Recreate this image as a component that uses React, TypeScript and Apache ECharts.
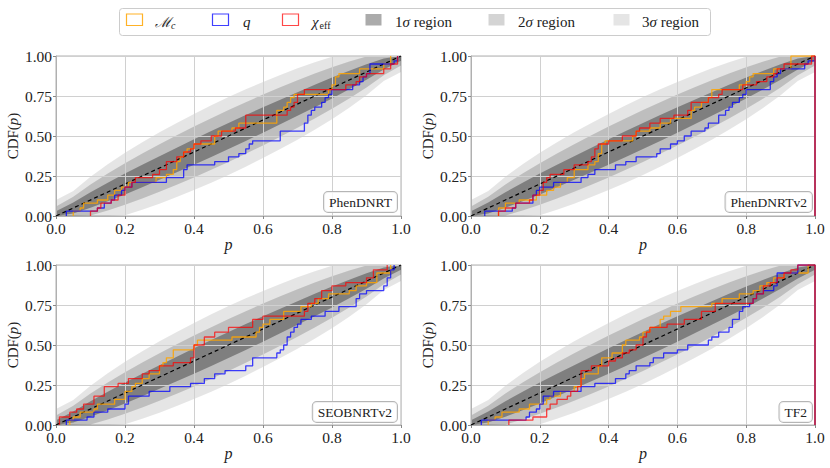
import React, { useEffect, useRef } from "react";
import * as echarts from "echarts";

// ---------- data ----------
const PANEL_NAMES = ["PhenDNRT", "PhenDNRTv2", "SEOBNRTv2", "TF2"];

// confidence bands (binomial)
const P_BAND = [0, 0.05, 0.1, 0.15, 0.2, 0.25, 0.3, 0.35, 0.4, 0.45, 0.5, 0.55, 0.6, 0.65, 0.7, 0.75, 0.8, 0.85, 0.9, 0.95, 1];
const LO_1SIG = [0, 0.015, 0.051, 0.092, 0.135, 0.18, 0.226, 0.273, 0.321, 0.369, 0.419, 0.469, 0.521, 0.573, 0.626, 0.68, 0.735, 0.792, 0.851, 0.915, 0.97];
const HI_1SIG = [0.03, 0.085, 0.149, 0.208, 0.265, 0.32, 0.374, 0.427, 0.479, 0.531, 0.581, 0.631, 0.679, 0.727, 0.774, 0.82, 0.865, 0.908, 0.949, 0.985, 1];
const LO_2SIG = [0, 0, 0.003, 0.034, 0.07, 0.11, 0.151, 0.195, 0.241, 0.289, 0.338, 0.389, 0.441, 0.495, 0.551, 0.61, 0.67, 0.734, 0.803, 0.879, 0.94];
const HI_2SIG = [0.06, 0.121, 0.197, 0.266, 0.33, 0.39, 0.449, 0.505, 0.559, 0.611, 0.662, 0.711, 0.759, 0.805, 0.849, 0.89, 0.93, 0.966, 0.997, 1, 1];
const LO_3SIG = [0, 0, 0, 0, 0.005, 0.039, 0.077, 0.118, 0.162, 0.208, 0.257, 0.308, 0.362, 0.418, 0.477, 0.539, 0.605, 0.676, 0.754, 0.844, 0.9];
const HI_3SIG = [0.1, 0.156, 0.246, 0.324, 0.395, 0.461, 0.523, 0.582, 0.638, 0.692, 0.743, 0.792, 0.838, 0.882, 0.923, 0.961, 0.995, 1, 1, 1, 1];

const DIAG_X = [0, 1];
const DIAG_Y = [0, 1];

// PhenDNRT
const MC_X_1 = [0.05, 0.07, 0.08, 0.12, 0.15, 0.17, 0.19, 0.21, 0.29, 0.32, 0.34, 0.35, 0.36, 0.37, 0.38, 0.4, 0.46, 0.47, 0.51, 0.53, 0.64, 0.66, 0.67, 0.68, 0.69, 0.79, 0.8, 0.81, 0.82, 0.88, 0.95, 0.97];
const MC_Y_1 = [0.03, 0.05, 0.08, 0.1, 0.13, 0.16, 0.18, 0.21, 0.24, 0.26, 0.29, 0.34, 0.37, 0.4, 0.42, 0.45, 0.5, 0.53, 0.55, 0.58, 0.66, 0.68, 0.71, 0.74, 0.76, 0.79, 0.82, 0.87, 0.89, 0.92, 0.95, 1];
const Q_X_1 = [0.03, 0.12, 0.14, 0.16, 0.17, 0.19, 0.2, 0.22, 0.32, 0.37, 0.38, 0.46, 0.5, 0.53, 0.55, 0.56, 0.57, 0.65, 0.72, 0.73, 0.74, 0.75, 0.77, 0.78, 0.79, 0.8, 0.86, 0.88, 0.89, 0.9, 0.91, 0.98, 0.99];
const Q_Y_1 = [0.03, 0.05, 0.08, 0.1, 0.13, 0.16, 0.18, 0.21, 0.24, 0.29, 0.32, 0.34, 0.37, 0.39, 0.42, 0.45, 0.47, 0.53, 0.58, 0.63, 0.66, 0.68, 0.71, 0.74, 0.76, 0.79, 0.82, 0.84, 0.87, 0.89, 0.95, 0.97, 1];
const CHI_X_1 = [0.1, 0.12, 0.13, 0.16, 0.18, 0.2, 0.22, 0.23, 0.28, 0.3, 0.32, 0.35, 0.37, 0.39, 0.4, 0.42, 0.45, 0.48, 0.52, 0.55, 0.67, 0.68, 0.69, 0.7, 0.72, 0.84, 0.87, 0.88, 0.9, 0.95, 0.97, 0.99];
const CHI_Y_1 = [0.03, 0.05, 0.08, 0.1, 0.13, 0.18, 0.21, 0.24, 0.26, 0.29, 0.34, 0.37, 0.4, 0.42, 0.45, 0.47, 0.5, 0.53, 0.55, 0.63, 0.66, 0.68, 0.71, 0.76, 0.79, 0.82, 0.84, 0.87, 0.89, 0.92, 0.95, 1];

// PhenDNRTv2
const MC_X_2 = [0.08, 0.1, 0.14, 0.19, 0.22, 0.24, 0.26, 0.28, 0.3, 0.34, 0.36, 0.37, 0.38, 0.39, 0.47, 0.48, 0.52, 0.55, 0.58, 0.64, 0.65, 0.67, 0.69, 0.7, 0.78, 0.8, 0.81, 0.82, 0.88, 0.93, 1, 1];
const MC_Y_2 = [0.05, 0.08, 0.1, 0.13, 0.16, 0.18, 0.21, 0.24, 0.29, 0.32, 0.34, 0.39, 0.45, 0.47, 0.5, 0.53, 0.55, 0.58, 0.61, 0.66, 0.68, 0.71, 0.74, 0.79, 0.82, 0.84, 0.87, 0.89, 0.92, 1, 1, 0];
const Q_X_2 = [0.04, 0.12, 0.13, 0.18, 0.19, 0.2, 0.24, 0.32, 0.34, 0.36, 0.42, 0.45, 0.48, 0.54, 0.55, 0.58, 0.6, 0.62, 0.64, 0.68, 0.69, 0.72, 0.74, 0.75, 0.76, 0.78, 0.79, 0.8, 0.87, 0.88, 0.89, 0.9, 0.97, 0.98, 1, 1];
const Q_Y_2 = [0.03, 0.05, 0.08, 0.13, 0.16, 0.18, 0.21, 0.24, 0.26, 0.29, 0.32, 0.34, 0.37, 0.39, 0.42, 0.45, 0.47, 0.5, 0.53, 0.55, 0.58, 0.63, 0.66, 0.68, 0.71, 0.74, 0.76, 0.79, 0.84, 0.87, 0.89, 0.92, 0.95, 0.97, 1, 0];
const CHI_X_2 = [0.08, 0.1, 0.13, 0.17, 0.18, 0.2, 0.21, 0.22, 0.23, 0.27, 0.3, 0.34, 0.35, 0.36, 0.37, 0.4, 0.44, 0.48, 0.49, 0.52, 0.55, 0.59, 0.63, 0.64, 0.69, 0.72, 0.73, 0.79, 0.83, 0.86, 0.88, 0.89, 0.91, 0.99, 1, 1];
const CHI_Y_2 = [0.03, 0.05, 0.08, 0.1, 0.13, 0.16, 0.21, 0.24, 0.26, 0.29, 0.32, 0.34, 0.37, 0.42, 0.45, 0.47, 0.5, 0.53, 0.55, 0.58, 0.61, 0.63, 0.66, 0.71, 0.74, 0.76, 0.79, 0.82, 0.84, 0.87, 0.89, 0.92, 0.95, 1, 1, 0];

// SEOBNRTv2
const MC_X_3 = [0.04, 0.05, 0.07, 0.11, 0.12, 0.17, 0.2, 0.22, 0.23, 0.25, 0.27, 0.3, 0.31, 0.32, 0.34, 0.4, 0.41, 0.51, 0.58, 0.59, 0.6, 0.62, 0.66, 0.71, 0.74, 0.76, 0.79, 0.85, 0.87, 0.9, 0.93, 0.97];
const MC_Y_3 = [0.03, 0.05, 0.08, 0.1, 0.13, 0.16, 0.21, 0.24, 0.26, 0.29, 0.32, 0.37, 0.39, 0.42, 0.47, 0.5, 0.53, 0.55, 0.58, 0.61, 0.63, 0.66, 0.71, 0.74, 0.76, 0.79, 0.82, 0.84, 0.87, 0.89, 0.95, 1];
const Q_X_3 = [0.03, 0.09, 0.11, 0.15, 0.2, 0.21, 0.27, 0.33, 0.39, 0.43, 0.46, 0.49, 0.55, 0.57, 0.64, 0.65, 0.66, 0.67, 0.68, 0.69, 0.7, 0.71, 0.74, 0.78, 0.82, 0.87, 0.88, 0.9, 0.95, 0.96, 0.97, 0.98];
const Q_Y_3 = [0.03, 0.05, 0.08, 0.1, 0.13, 0.18, 0.21, 0.24, 0.26, 0.29, 0.32, 0.34, 0.37, 0.42, 0.45, 0.47, 0.5, 0.55, 0.58, 0.61, 0.63, 0.66, 0.68, 0.71, 0.74, 0.79, 0.82, 0.84, 0.87, 0.92, 0.97, 1];
const CHI_X_3 = [0.01, 0.04, 0.06, 0.08, 0.11, 0.14, 0.18, 0.21, 0.25, 0.27, 0.3, 0.34, 0.39, 0.4, 0.43, 0.46, 0.5, 0.57, 0.6, 0.72, 0.73, 0.75, 0.77, 0.8, 0.84, 0.9, 0.92, 0.96];
const CHI_Y_3 = [0.05, 0.08, 0.1, 0.13, 0.18, 0.24, 0.26, 0.29, 0.32, 0.34, 0.37, 0.39, 0.42, 0.5, 0.55, 0.58, 0.61, 0.66, 0.68, 0.71, 0.76, 0.79, 0.84, 0.87, 0.89, 0.92, 0.97, 1];

// TF2
const MC_X_4 = [0.05, 0.07, 0.09, 0.14, 0.17, 0.22, 0.23, 0.26, 0.3, 0.32, 0.33, 0.37, 0.38, 0.41, 0.44, 0.45, 0.49, 0.5, 0.52, 0.55, 0.56, 0.58, 0.61, 0.7, 0.73, 0.78, 0.82, 0.84, 0.86, 0.88, 0.91, 0.98, 1, 1];
const MC_Y_4 = [0.03, 0.05, 0.08, 0.1, 0.13, 0.16, 0.18, 0.21, 0.24, 0.29, 0.32, 0.37, 0.42, 0.45, 0.5, 0.53, 0.55, 0.58, 0.61, 0.66, 0.68, 0.71, 0.74, 0.76, 0.79, 0.82, 0.84, 0.87, 0.89, 0.92, 0.95, 1, 1, 0];
const Q_X_4 = [0.03, 0.16, 0.17, 0.19, 0.2, 0.21, 0.24, 0.32, 0.36, 0.42, 0.45, 0.46, 0.48, 0.52, 0.53, 0.56, 0.6, 0.63, 0.69, 0.7, 0.72, 0.75, 0.76, 0.78, 0.79, 0.81, 0.82, 0.83, 0.85, 0.88, 0.89, 0.95, 1, 1];
const Q_Y_4 = [0.03, 0.05, 0.08, 0.1, 0.13, 0.18, 0.21, 0.24, 0.26, 0.29, 0.32, 0.34, 0.37, 0.39, 0.42, 0.45, 0.47, 0.5, 0.53, 0.55, 0.58, 0.61, 0.66, 0.71, 0.74, 0.76, 0.79, 0.82, 0.84, 0.87, 0.95, 1, 1, 0];
const CHI_X_4 = [0.11, 0.18, 0.22, 0.23, 0.25, 0.28, 0.29, 0.31, 0.32, 0.35, 0.4, 0.42, 0.44, 0.46, 0.48, 0.5, 0.51, 0.52, 0.57, 0.62, 0.67, 0.71, 0.82, 0.83, 0.85, 0.87, 0.89, 0.91, 0.93, 0.95, 1, 1];
const CHI_Y_4 = [0.03, 0.05, 0.1, 0.13, 0.16, 0.18, 0.21, 0.24, 0.34, 0.37, 0.4, 0.42, 0.45, 0.47, 0.5, 0.55, 0.58, 0.61, 0.63, 0.66, 0.71, 0.76, 0.79, 0.82, 0.87, 0.89, 0.92, 0.95, 0.97, 1, 1, 0];

const MC_X = [MC_X_1, MC_X_2, MC_X_3, MC_X_4];
const MC_Y = [MC_Y_1, MC_Y_2, MC_Y_3, MC_Y_4];
const Q_X = [Q_X_1, Q_X_2, Q_X_3, Q_X_4];
const Q_Y = [Q_Y_1, Q_Y_2, Q_Y_3, Q_Y_4];
const CHI_X = [CHI_X_1, CHI_X_2, CHI_X_3, CHI_X_4];
const CHI_Y = [CHI_Y_1, CHI_Y_2, CHI_Y_3, CHI_Y_4];

// ---------- styling / layout ----------
const FONT = "'Liberation Serif', 'DejaVu Serif', serif";
const TEXT = "#222222";
const C_MC = "rgba(255,165,0,0.85)";
const C_Q = "rgba(0,0,255,0.75)";
const C_CHI = "rgba(255,0,0,0.72)";
const C_1SIG = "rgba(0,0,0,0.33)";
const C_2SIG = "rgba(0,0,0,0.17)";
const C_3SIG = "rgba(0,0,0,0.1)";

const GRID_POS = [
  { left: 56, top: 56, width: 345, height: 160 },
  { left: 471, top: 56, width: 344, height: 160 },
  { left: 56, top: 265, width: 345, height: 160 },
  { left: 471, top: 265, width: 344, height: 160 },
];
const LABEL_POS = [
  { x: 397, y: 202 },
  { x: 812, y: 202 },
  { x: 397, y: 412 },
  { x: 812, y: 412 },
];

function stepData(xs: number[], ys: number[]) {
  const d: number[][] = [[xs[0], 0]];
  for (let i = 0; i < xs.length; i++) d.push([xs[i], ys[i]]);
  return d;
}

function bandSeries(k: number, lo: number[], hi: number[], color: string) {
  return {
    type: "custom",
    xAxisIndex: k,
    yAxisIndex: k,
    z: 1,
    silent: true,
    data: [[0, 0]],
    renderItem: (_params: any, api: any) => {
      const pts: number[][] = [];
      for (let i = 0; i < P_BAND.length; i++) pts.push(api.coord([P_BAND[i], lo[i]]));
      for (let i = P_BAND.length - 1; i >= 0; i--) pts.push(api.coord([P_BAND[i], hi[i]]));
      return { type: "polygon", shape: { points: pts }, style: { fill: color } };
    },
  };
}

function stepSeries(k: number, name: string, xs: number[], ys: number[], color: string) {
  return {
    type: "line",
    name,
    xAxisIndex: k,
    yAxisIndex: k,
    z: 4,
    step: "end",
    symbol: "none",
    showSymbol: false,
    silent: true,
    clip: true,
    data: stepData(xs, ys),
    lineStyle: { color, width: 1.3 },
  };
}

function buildOption() {
  const series: any[] = [];
  for (let k = 0; k < 4; k++) {
    series.push(bandSeries(k, LO_3SIG, HI_3SIG, C_3SIG));
    series.push(bandSeries(k, LO_2SIG, HI_2SIG, C_2SIG));
    series.push(bandSeries(k, LO_1SIG, HI_1SIG, C_1SIG));
    series.push({
      type: "line",
      xAxisIndex: k,
      yAxisIndex: k,
      z: 3,
      symbol: "none",
      silent: true,
      data: DIAG_X.map((x, i) => [x, DIAG_Y[i]]),
      lineStyle: { color: "#000", width: 1.2, type: [4, 3] },
    });
    series.push(stepSeries(k, "Mc", MC_X[k], MC_Y[k], C_MC));
    series.push(stepSeries(k, "q", Q_X[k], Q_Y[k], C_Q));
    series.push(stepSeries(k, "chi_eff", CHI_X[k], CHI_Y[k], C_CHI));
  }

  const graphic: any[] = [];
  // legend
  graphic.push({
    type: "rect",
    z: 100,
    shape: { x: 119.5, y: 8.5, width: 591, height: 27, r: 3 },
    style: { fill: "#ffffff", stroke: "#cccccc", lineWidth: 1 },
  });
  const legend = [
    { px: 126, fill: "#ffffff", stroke: C_MC, tx: 155, text: "{m|ℳ}{s|c}" },
    { px: 212, fill: "#ffffff", stroke: C_Q, tx: 243, text: "{i|q}" },
    { px: 282, fill: "#ffffff", stroke: C_CHI, tx: 312, text: "{i|χ}{u|eff}" },
    { px: 365, fill: C_1SIG, stroke: "none", tx: 395, text: "{n|1}{i|σ}{n| region}" },
    { px: 488, fill: C_2SIG, stroke: "none", tx: 518, text: "{n|2}{i|σ}{n| region}" },
    { px: 613, fill: C_3SIG, stroke: "none", tx: 642, text: "{n|3}{i|σ}{n| region}" },
  ];
  const rich = {
    n: { fontFamily: FONT, fontSize: 15, color: TEXT, lineHeight: 20, verticalAlign: "middle" },
    i: { fontFamily: FONT, fontSize: 15, fontStyle: "italic", color: TEXT, lineHeight: 20, verticalAlign: "middle" },
    m: { fontFamily: "'DejaVu Serif', serif", fontSize: 14, fontStyle: "italic", color: TEXT, lineHeight: 20, verticalAlign: "middle" },
    s: { fontFamily: FONT, fontSize: 10, fontStyle: "italic", color: TEXT, lineHeight: 10, padding: [7, 0, 0, 0], verticalAlign: "middle" },
    u: { fontFamily: FONT, fontSize: 10, color: TEXT, lineHeight: 10, padding: [7, 0, 0, 1], verticalAlign: "middle" },
  };
  legend.forEach((it) => {
    graphic.push({
      type: "rect",
      z: 101,
      shape: { x: it.px + 0.5, y: 14, width: 16, height: 11.5 },
      style: { fill: it.fill, stroke: it.stroke, lineWidth: 1.2 },
    });
    graphic.push({
      type: "text",
      z: 101,
      x: it.tx,
      y: 21.5,
      style: { text: it.text, rich, align: "left", verticalAlign: "middle", fontFamily: FONT, fontSize: 15, fill: TEXT },
    });
  });
  // panel labels
  PANEL_NAMES.forEach((name, k) => {
    graphic.push({
      type: "text",
      z: 100,
      x: LABEL_POS[k].x,
      y: LABEL_POS[k].y,
      style: {
        text: name,
        fontFamily: FONT,
        fontSize: 13.5,
        fill: TEXT,
        align: "right",
        verticalAlign: "middle",
        backgroundColor: "rgba(255,255,255,0.8)",
        borderColor: "#b5b5b5",
        borderWidth: 1,
        borderRadius: 4,
        padding: [3, 5, 3, 5],
      },
    });
  });

  return {
    animation: false,
    backgroundColor: "#ffffff",
    grid: GRID_POS.map((g) => ({ ...g, show: true, borderColor: "#b0b0b0", borderWidth: 1, backgroundColor: "transparent" })),
    xAxis: GRID_POS.map((_g, k) => ({
      type: "value",
      gridIndex: k,
      min: 0,
      max: 1,
      interval: 0.2,
      z: 2,
      name: "p",
      nameLocation: "middle",
      nameGap: 20,
      nameTextStyle: { fontFamily: FONT, fontSize: 16, fontStyle: "italic", color: TEXT },
      axisLine: { show: true, onZero: false, lineStyle: { color: "#b0b0b0", width: 1 } },
      axisTick: { show: true, length: 3, lineStyle: { color: "#888888" } },
      axisLabel: { formatter: (v: number) => v.toFixed(1), fontFamily: FONT, fontSize: 15.5, color: TEXT, margin: 4 },
      splitLine: { show: true, lineStyle: { color: "#d0d0d0", width: 1 } },
    })),
    yAxis: GRID_POS.map((_g, k) => ({
      type: "value",
      gridIndex: k,
      min: 0,
      max: 1,
      interval: 0.25,
      z: 2,
      name: "CDF({i|p})",
      nameLocation: "middle",
      nameGap: 36,
      nameRotate: 90,
      nameTextStyle: {
        fontFamily: FONT,
        fontSize: 15,
        color: TEXT,
        rich: { i: { fontFamily: FONT, fontSize: 15, fontStyle: "italic", color: TEXT } },
      },
      axisLine: { show: true, onZero: false, lineStyle: { color: "#b0b0b0", width: 1 } },
      axisTick: { show: true, length: 3, lineStyle: { color: "#888888" } },
      axisLabel: { formatter: (v: number) => v.toFixed(2), fontFamily: FONT, fontSize: 15.5, color: TEXT, margin: 4 },
      splitLine: { show: true, lineStyle: { color: "#d0d0d0", width: 1 } },
    })),
    series,
    graphic,
  };
}

export default function App() {
  const ref = useRef<HTMLDivElement>(null);
  useEffect(() => {
    if (!ref.current) return;
    const chart = echarts.init(ref.current, undefined, { renderer: "svg" });
    chart.setOption(buildOption() as any);
    return () => chart.dispose();
  }, []);
  return (
    <div
      ref={ref}
      style={{ position: "fixed", left: 0, top: 0, width: 830, height: 468, background: "#ffffff" }}
    />
  );
}
